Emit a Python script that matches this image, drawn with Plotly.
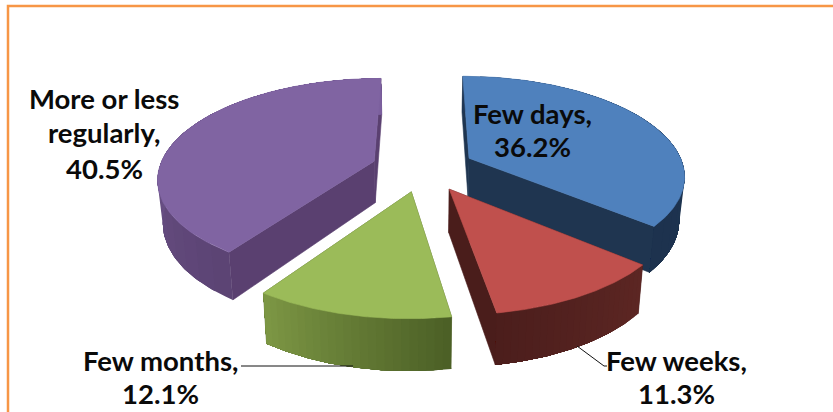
import math
import plotly.graph_objects as go

categories = ["Few days", "Few weeks", "Few months", "More or less regularly"]
values = [36.2, 11.3, 12.1, 40.5]
label_lines = [["Few days,", "36.2%"], ["Few weeks,", "11.3%"], ["Few months,", "12.1%"],
               ["More or less", "regularly,", "40.5%"]]
label_x = [532, 676, 160, 104]
label_y = [[113, 146], [360, 393], [360, 393], [98, 132, 168]]
top_colors = ["#4f81bd", "#c0504d", "#9bbb59", "#8064a2"]
wall_colors = ["#1f3550", "#4a1d1b", "#4f6228", "#5a4070"]
rim_from = [(31, 54, 84), (92, 38, 35), (124, 150, 68), (124, 96, 158)]
rim_to = [(29, 50, 78), (76, 30, 28), (76, 96, 38), (92, 68, 116)]

CX, CY, RX, RY, K, EXPLODE, DEPTH, SHRINK = 423, 168, 215, 98, 0.16, 0.24, 42, 0.98


def project(px, py, low=False):
    w = 1 / (1 - K * py)
    x, y = CX + RX * px * w, CY + RY * py * w
    if low:
        x, y = CX + (x - CX) * SHRINK, y + DEPTH * w
    return x, y


def unzip(points):
    return [p[0] for p in points], [p[1] for p in points]


fig = go.Figure()


def poly(points, color, lw=0.6):
    xs, ys = unzip(points + points[:1])
    fig.add_trace(go.Scatter(x=xs, y=ys, mode="lines", fill="toself", fillcolor=color,
                             line=dict(color=color, width=lw), hoverinfo="skip", showlegend=False))


total = sum(values)
start = 0.0
spans = []
for v in values:
    spans.append((start, start + 2 * math.pi * v / total))
    start = spans[-1][1]

for i in [0, 1, 3, 2]:
    a0, a1 = spans[i]
    mid = (a0 + a1) / 2
    ox, oy = EXPLODE * math.sin(mid), -EXPLODE * math.cos(mid)
    n = 120
    strips = 24
    angles = [a0 + (a1 - a0) * j / n for j in range(n + 1)]
    rim = [(ox + math.sin(a), oy - math.cos(a)) for a in angles]
    # radial walls
    for p in (rim[0], rim[-1]):
        poly([project(ox, oy), project(*p), project(*p, low=True), project(ox, oy, low=True)], wall_colors[i])
    # rim: each band runs to the end of the arc and the next one paints over it, so no seams show
    for s in range(strips):
        j0 = s * n // strips
        t = s / (strips - 1)
        if i >= 2:
            t = 1 - t
        c = [round(rim_from[i][m] + (rim_to[i][m] - rim_from[i][m]) * t) for m in range(3)]
        tail = rim[j0:]
        poly([project(*p) for p in tail] + [project(*p, low=True) for p in reversed(tail)],
             f"rgb({c[0]},{c[1]},{c[2]})", lw=0)
    # top face
    poly([project(ox, oy)] + [project(*p) for p in rim], top_colors[i])

# leader lines
fig.add_trace(go.Scatter(x=[241, 353], y=[366, 366], mode="lines", line=dict(color="#111111", width=1),
                         hoverinfo="skip", showlegend=False))
fig.add_trace(go.Scatter(x=[577, 604, 607], y=[346, 366, 366], mode="lines", line=dict(color="#111111", width=1),
                         hoverinfo="skip", showlegend=False))

for lines, x, ys in zip(label_lines, label_x, label_y):
    for t, y in zip(lines, ys):
        fig.add_annotation(x=x, y=y, text=t, showarrow=False, align="center", xanchor="center", yanchor="middle",
                           font=dict(family="Lato", size=27.5, color="#0a0a0a", weight="bold"))

fig.add_shape(type="path", xref="x", yref="y", path="M 8 412 L 8 6 L 833 6",
              line=dict(color="#f79646", width=2.5), layer="below")

fig.update_layout(width=833, height=412, margin=dict(l=0, r=0, t=0, b=0), autosize=False,
                  paper_bgcolor="white", plot_bgcolor="white", showlegend=False,
                  xaxis=dict(range=[0, 833], visible=False, fixedrange=True),
                  yaxis=dict(range=[412, 0], visible=False, fixedrange=True))
fig.write_html("out.html", config=dict(displayModeBar=False),
               post_script="document.body.style.margin='0';document.body.style.overflow='hidden';")
